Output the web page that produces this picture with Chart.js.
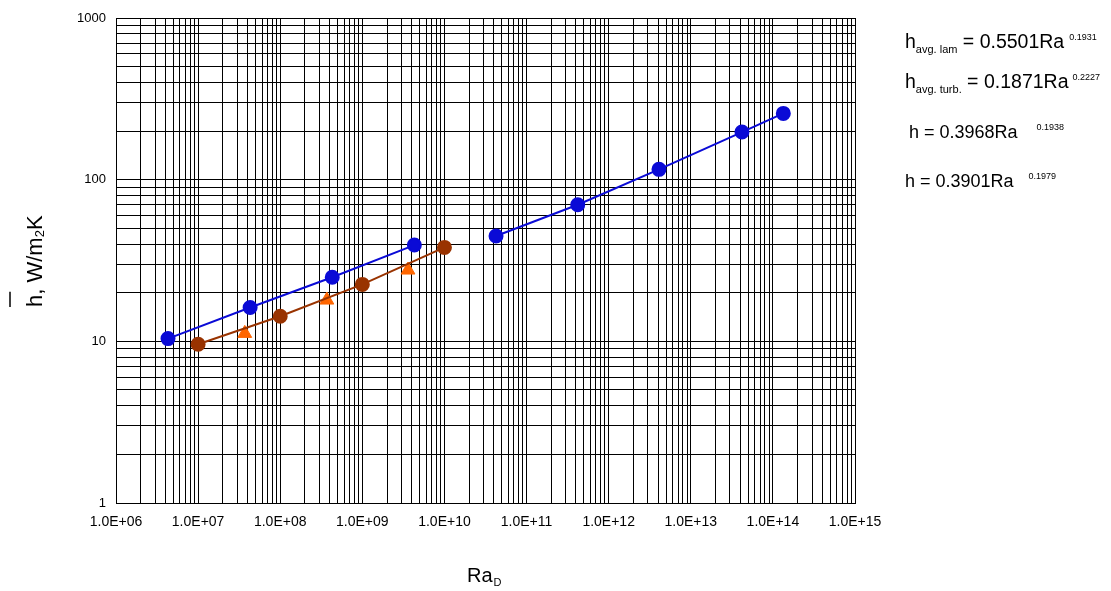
<!DOCTYPE html>
<html>
<head>
<meta charset="utf-8">
<script src="https://cdn.jsdelivr.net/npm/chart.js@4.4.1/dist/chart.umd.min.js"></script>
<style>
  html, body { margin:0; padding:0; background:#fff; }
</style>
</head>
<body>
<canvas id="hChart" width="1111" height="591"></canvas>
<script>

/* DADOS */

const xTickLabels = ['1.0E+06','1.0E+07','1.0E+08','1.0E+09','1.0E+10',
                     '1.0E+11','1.0E+12','1.0E+13','1.0E+14','1.0E+15'];
const yTickLabels = ['1','10','100','1000'];

// laminar (blue, left group)
const lamRa = [4.3e6, 4.3e7, 4.3e8, 4.3e9];
const lamH  = [10.4, 16.2, 24.9, 39.4];

// turbulent (blue, right group)
const turbRa = [4.25e10, 4.2e11, 4.1e12, 4.2e13, 1.34e14];
const turbH  = [44.8, 70, 115.8, 197, 257];

// brown circles
const brownRa = [1.0e7, 1.0e8, 1.0e9, 1.0e10];
const brownH  = [9.6, 14.3, 22.5, 38.1];

// orange triangles
const triRa = [3.7e7, 3.7e8, 3.6e9];
const triH  = [11.2, 18.0, 27.6];

const equations = [
  { sub:'avg. lam',   rest:' = 0.5501Ra', sup:'0.1931' },
  { sub:'avg. turb.', rest:' = 0.1871Ra', sup:'0.2227' },
  { sub:'',           rest:' = 0.3968Ra', sup:'0.1938' },
  { sub:'',           rest:' = 0.3901Ra', sup:'0.1979' }
];

const BLUE = '#0a0ad6';
const BROWN = '#993300';
const ORANGE = '#ff6600';
const FONT = '"Liberation Sans", Arial, sans-serif';

function pts(xs, ys){
  return xs.map((x, i) => ({ x:x, y:ys[i] }));
}

// every 1..9 x decade between the first and last label
function logTicks(labels){
  const out = [];
  const majors = labels.map(Number);
  majors.forEach((m, i) => {
    if (i === majors.length - 1) { out.push(m); return; }
    for (let d = 1; d <= 9; d++) out.push(d * m);
  });
  return out;
}

function labelFor(labels){
  return value => {
    const hit = labels.find(l => Number(l) === value);
    return hit === undefined ? '' : hit;
  };
}

/* TEXTOS */

const textPlugin = {
  id:'texts',
  afterDraw(chart){
    const ctx = chart.ctx;
    ctx.save();
    ctx.fillStyle = '#000';
    ctx.textBaseline = 'alphabetic';
    ctx.textAlign = 'left';

    // y title, rotated
    ctx.save();
    ctx.translate(42, 259.5);
    ctx.rotate(-Math.PI / 2);
    ctx.font = '22px ' + FONT;
    let x = -47.5;
    const hW = ctx.measureText('h').width;
    ctx.fillText('h, W/m', x, 0);
    x += ctx.measureText('h, W/m').width;
    ctx.font = '13px ' + FONT;
    ctx.fillText('2', x, 2);
    x += ctx.measureText('2').width;
    ctx.font = '22px ' + FONT;
    ctx.fillText('K', x, 0);
    ctx.lineWidth = 1.5;
    ctx.strokeStyle = '#000';
    ctx.beginPath();
    ctx.moveTo(-47.5, -32);
    ctx.lineTo(-47.5 + hW + 3, -32);
    ctx.stroke();
    ctx.restore();

    // x title
    ctx.font = '20px ' + FONT;
    ctx.fillText('Ra', 467, 582);
    const raW = ctx.measureText('Ra').width;
    ctx.font = '11px ' + FONT;
    ctx.fillText('D', 467 + raW + 1, 586);

    // equations
    const baselines = [48, 88, 138, 187];
    const lefts = [905, 905, 909, 905];
    const sizes = [19.5, 19.5, 18, 18];
    const gaps = [5, 4, 19, 15];
    equations.forEach((eq, i) => {
      let ex = lefts[i];
      const by = baselines[i];
      ctx.font = sizes[i] + 'px ' + FONT;
      ctx.fillText('h', ex, by);
      ex += ctx.measureText('h').width;
      if (eq.sub) {
        ctx.font = '11px ' + FONT;
        ctx.fillText(eq.sub, ex, by + 5);
        ex += ctx.measureText(eq.sub).width;
      }
      ctx.font = sizes[i] + 'px ' + FONT;
      ctx.fillText(eq.rest, ex, by);
      ex += ctx.measureText(eq.rest).width + gaps[i];
      ctx.font = '9px ' + FONT;
      ctx.fillText(eq.sup, ex, by - 8);
    });

    ctx.restore();
  }
};

/* GRAFICO */

const xTicks = logTicks(xTickLabels);
const yTicks = logTicks(yTickLabels);

new Chart(document.getElementById('hChart'), {
  type:'scatter',
  data:{
    datasets:[
      {
        data: pts(lamRa, lamH),
        showLine:true,
        borderColor:BLUE, borderWidth:2,
        backgroundColor:BLUE, pointBackgroundColor:BLUE, pointBorderColor:BLUE,
        pointRadius:6.5
      },
      {
        data: pts(turbRa, turbH),
        showLine:true,
        borderColor:BLUE, borderWidth:2,
        backgroundColor:BLUE, pointBackgroundColor:BLUE, pointBorderColor:BLUE,
        pointRadius:6.5
      },
      {
        data: pts(brownRa, brownH),
        showLine:true,
        borderColor:BROWN, borderWidth:2,
        backgroundColor:BROWN, pointBackgroundColor:BROWN, pointBorderColor:BROWN,
        pointRadius:6.5
      },
      {
        data: pts(triRa, triH),
        showLine:false,
        pointStyle:'triangle',
        backgroundColor:ORANGE, pointBackgroundColor:ORANGE, pointBorderColor:ORANGE,
        pointRadius:8
      }
    ]
  },
  options:{
    responsive:false,
    animation:false,
    events:[],
    layout:{ padding:{ left:0, top:18, right:256, bottom:0 } },
    plugins:{
      legend:{ display:false },
      tooltip:{ enabled:false }
    },
    scales:{
      x:{
        type:'logarithmic',
        min:1e6, max:1e15,
        afterBuildTicks: s => { s.ticks = xTicks.map(v => ({ value:v })); },
        afterFit: s => { s.height = 88; },
        grid:{ color:'#000', lineWidth:1, drawTicks:false },
        border:{ color:'#000', width:1 },
        ticks:{
          autoSkip:false, maxRotation:0, minRotation:0,
          padding:11,
          color:'#000',
          font:{ family:FONT, size:14 },
          callback: labelFor(xTickLabels)
        }
      },
      y:{
        type:'logarithmic',
        min:1, max:1000,
        afterBuildTicks: s => { s.ticks = yTicks.map(v => ({ value:v })); },
        afterFit: s => { s.width = 116; },
        grid:{ color:'#000', lineWidth:1, drawTicks:false },
        border:{ color:'#000', width:1 },
        ticks:{
          autoSkip:false,
          padding:10,
          color:'#000',
          font:{ family:FONT, size:13 },
          callback: labelFor(yTickLabels)
        }
      }
    }
  },
  plugins:[textPlugin]
});

</script>
</body>
</html>
